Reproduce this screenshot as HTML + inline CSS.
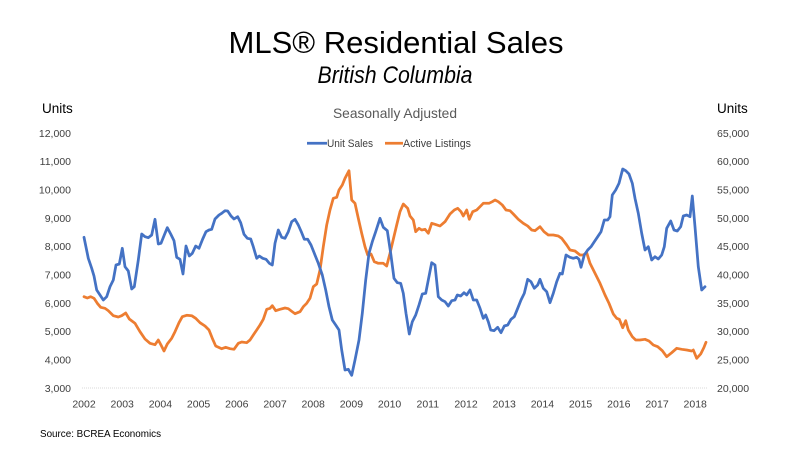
<!DOCTYPE html>
<html>
<head>
<meta charset="utf-8">
<style>
  html, body { margin: 0; padding: 0; background: #ffffff; }
  body { width: 800px; height: 450px; overflow: hidden; }
  svg { display: block; }
  text { font-family: "Liberation Sans", "DejaVu Sans", sans-serif; }
</style>
</head>
<body>
<svg width="800" height="450" viewBox="0 0 800 450" xmlns="http://www.w3.org/2000/svg">
  <rect x="0" y="0" width="800" height="450" fill="#ffffff"/>

  <!-- Titles -->
  <text x="396" y="53" font-size="31" text-anchor="middle" fill="#000" textLength="335" lengthAdjust="spacingAndGlyphs">MLS® Residential Sales</text>
  <text x="395" y="83" font-size="24" font-style="italic" text-anchor="middle" fill="#000" textLength="155" lengthAdjust="spacingAndGlyphs">British Columbia</text>
  <text x="395" y="118" font-size="14" text-anchor="middle" fill="#595959" textLength="124" lengthAdjust="spacingAndGlyphs">Seasonally Adjusted</text>

  <!-- Legend -->
  <line x1="307" y1="143.3" x2="327" y2="143.3" stroke="#4472C4" stroke-width="2.75"/>
  <text x="327" y="147" font-size="11" fill="#404040" textLength="46" lengthAdjust="spacingAndGlyphs">Unit Sales</text>
  <line x1="385" y1="143.3" x2="403" y2="143.3" stroke="#ED7D31" stroke-width="2.75"/>
  <text x="403" y="147" font-size="11" fill="#404040" textLength="68" lengthAdjust="spacingAndGlyphs">Active Listings</text>

  <!-- Axis titles -->
  <text x="42" y="113" font-size="13.5" fill="#000">Units</text>
  <text x="717" y="113" font-size="13.5" fill="#000">Units</text>

  <!-- Left tick labels -->
  <g font-size="10.5" fill="#404040" text-anchor="end">
    <text x="71" y="136.8">12,000</text>
    <text x="71" y="165.1">11,000</text>
    <text x="71" y="193.5">10,000</text>
    <text x="71" y="221.8">9,000</text>
    <text x="71" y="250.1">8,000</text>
    <text x="71" y="278.5">7,000</text>
    <text x="71" y="306.8">6,000</text>
    <text x="71" y="335.1">5,000</text>
    <text x="71" y="363.5">4,000</text>
    <text x="71" y="391.8">3,000</text>
  </g>

  <!-- Right tick labels -->
  <g font-size="10.5" fill="#404040" text-anchor="start">
    <text x="717" y="136.8">65,000</text>
    <text x="717" y="165.1">60,000</text>
    <text x="717" y="193.5">55,000</text>
    <text x="717" y="221.8">50,000</text>
    <text x="717" y="250.1">45,000</text>
    <text x="717" y="278.5">40,000</text>
    <text x="717" y="306.8">35,000</text>
    <text x="717" y="335.1">30,000</text>
    <text x="717" y="363.5">25,000</text>
    <text x="717" y="391.8">20,000</text>
  </g>

  <!-- X labels -->
  <g font-size="10.5" fill="#404040" text-anchor="middle">
    <text x="84" y="407.5">2002</text>
    <text x="122.2" y="407.5">2003</text>
    <text x="160.4" y="407.5">2004</text>
    <text x="198.6" y="407.5">2005</text>
    <text x="236.8" y="407.5">2006</text>
    <text x="275" y="407.5">2007</text>
    <text x="313.2" y="407.5">2008</text>
    <text x="351.4" y="407.5">2009</text>
    <text x="389.6" y="407.5">2010</text>
    <text x="427.8" y="407.5">2011</text>
    <text x="466" y="407.5">2012</text>
    <text x="504.2" y="407.5">2013</text>
    <text x="542.4" y="407.5">2014</text>
    <text x="580.6" y="407.5">2015</text>
    <text x="618.8" y="407.5">2016</text>
    <text x="657" y="407.5">2017</text>
    <text x="695.2" y="407.5">2018</text>
  </g>

  <!-- Bottom gridline -->
  <line x1="82" y1="388" x2="707" y2="388" stroke="#d9d9d9" stroke-width="1" stroke-dasharray="1,1"/>

  <!-- Active Listings (orange) -->
  <polyline fill="none" stroke="#ED7D31" stroke-width="2.75" stroke-linejoin="round" stroke-linecap="round" points="
    84,296.7 87.3,298 90.7,296.7 94,298.3 97.3,303.3 100.7,307.3 105,308.3 108.3,310.7 113.3,315.7 118.3,317
    121.7,315.7 125.7,313 129.3,319 135,323.3 140,331.7 145,339 150,343.3 155,344.7 158.3,340 161,345
    164,351 167.3,344 171.7,338.3 175,331.7 179,322.7 182.3,316.7 186.7,315.3 191.7,315.7 195.7,318.3 200,322.7
    205,326 209,330 212.3,338.3 215.7,346 221.7,348.7 225.7,347.3 230,348.7 234,349.3 238.3,343.3 241.7,342
    246.7,342.7 250,340 253.3,335 256.7,330 260,325 263.3,319.3 266.7,309.3 270,308.3 272.3,305.7 275.7,310.7
    280,309.3 285,308 288.3,308.7 291.7,311.3 295,313.7 300,311.7 303.3,306.7 306.7,303.3 310,298.3 313.3,286.7
    316.7,284 320,270 323.3,246.7 326.7,225 330,210 333.3,198.3 336.7,197.3 339,190 342.3,185 345,178.3
    349,170.7 351.7,200 355,203.3 358.3,218.3 361.7,233.3 365,246.7 367.7,255 371,254 374.3,261.7 378.3,263.3
    383.3,263.3 386.7,266 390,253.3 393.3,239.3 396.7,225 400,211.7 403.3,204 407.7,208.3 410,216 413.3,220
    415.7,231.7 419,228.3 421.7,230 425,229.3 428.3,233.3 431.7,223.3 435,224.3 440,226 445,221.7 450,214
    454.3,210 457.7,208.3 461,211.7 463.3,216 466.7,210 469.3,219.3 472.7,211.7 476.7,210 480,206.7 483.3,203.3
    489,203.3 492.3,201.7 495,200 498.3,201.7 502.3,205 506,210 510,210.7 513.3,214 518.3,219.3 523.3,223.3
    527.7,226 531.7,230 535,230.7 540,226.7 544,231.7 548.3,235 553.3,235 558.3,236 561.7,238.3 566.7,245
    570,250 575,251 580,255 583.3,255 586.7,252.7 590,263.3 595,273.3 600,283.3 605,295 609,303.3
    613.3,314 616.7,318.3 619.3,319.3 622.7,327.7 625.7,320.7 628.3,330 632.3,336.7 635.7,340 640,340 645,339.3
    649,341 653.3,345 657.7,346.7 662.3,350.7 666.7,356.7 671.7,352.7 676.7,348.3 681.7,349.3 686.7,350 691.7,351
    693.3,350 696.7,358.3 700.7,354 704,347.3 706,342.3"/>

  <!-- Unit Sales (blue) -->
  <polyline fill="none" stroke="#4472C4" stroke-width="2.75" stroke-linejoin="round" stroke-linecap="round" points="
    84,237.3 88.3,258.3 91.7,268.3 94,276 96.7,290 100,295 103.3,300 106.7,296.7 110,286.7 113.3,280
    116,265 119.3,264 122.3,248.3 125,266.7 128.3,271 131.7,289 134.3,286.7 138.3,260 141.7,234 145,236.7
    148.3,237.7 151.7,235 155,219.3 158.3,244 161,243.3 164.3,235 167.3,227.7 170.7,234 174,240.7 176.7,257.3
    180,259.3 183,274 186,246 189.3,256 192.3,253.3 195.7,246 199,248.3 202.7,239 206,231.7 209,230
    211.7,229.3 215,219 219,215 221.7,213.3 225,210.7 227.7,211 231,216 234,219 237.7,216.7 240.7,222.7
    244,234.3 247.3,238.3 250.7,239 253.3,246.7 256.7,258.3 259.3,256 262.7,258.3 266,259.3 269.3,263.3 272.3,265
    275,243.3 278.3,230 281.7,237.3 285,238.3 288.3,231.7 291.7,221.7 295,219.3 298.3,225 301.7,232.7 304.3,239.3
    307.7,239.3 311,245 314.3,253.3 318.3,263.3 322.3,275 325.7,290 329,306.7 332.3,320 335.7,325 339,330
    341.7,350 345,370 348.3,369.3 351.7,375.3 355,360 359,340 362.3,313.3 365.7,280 369,253.3 372.3,241.7
    375.7,231.7 380,218.3 383.3,227.3 387.3,230.7 390.7,253.3 394,278.3 397.3,282.7 400.7,283.3 403.3,293.3 406,313.3
    409.3,334 412.3,321.7 415.7,315 419,305 422.3,294 425.7,293.3 428.3,280 431.7,262.7 435,265 438.3,296.7
    441.7,300 445,301.7 448.3,306 451.7,300.7 455,300 457.3,295 460.7,296 464,292.7 466.7,295 470,290
    473.3,300 476.7,300 480,308.3 483.3,318.3 485.7,315 488.3,321.7 490.7,330 494,330.7 497.7,327.3 501,332.7
    504.3,326 507.7,325 511,319.3 514.3,316.7 517.7,308.3 521,300 524.3,293.3 527.7,279.3 531,281.7 534.3,288.3
    537.7,285 540,279.3 543.3,288.3 546.7,291.7 550,302.7 553.3,293.3 556.7,281.7 560,273.3 562.3,274 566,255
    570,257.3 573.3,258.3 576.7,257.3 579,259.3 581,267.3 584.3,255 587.7,250 591,246.7 594.3,241.7 597.7,236.7
    601,231.7 604.3,220 607.7,220 610,216.7 612.3,195 615.7,190 619,183.3 622.7,169 625.7,170.7 629,174
    632.3,183.3 635,198.3 638.3,213.3 641.7,233.3 645,250 648.3,246.7 651.7,260 655,256.7 658.3,259 661.7,255
    664.3,246.7 666.7,228.3 670.7,221 674,230 677.3,231 680.7,226.7 683.3,216 686.7,215 690,216.7 692.3,196
    695,226.7 698.3,266.7 701.7,290 705,286.7"/>

  <!-- Source -->
  <text x="40" y="437" font-size="10" fill="#000" textLength="121" lengthAdjust="spacingAndGlyphs">Source: BCREA Economics</text>
</svg>
</body>
</html>
